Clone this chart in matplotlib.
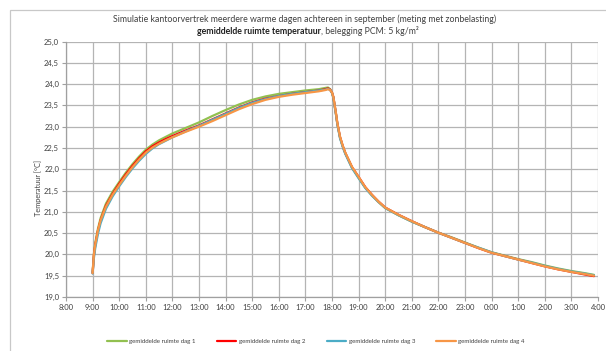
import matplotlib
matplotlib.use("Agg")
import matplotlib.pyplot as plt
from matplotlib.patches import Rectangle

plt.rcParams['font.family'] = ['Lato', 'DejaVu Sans']

# time in hours (8 = 8:00, 28 = 4:00 next day)
hours = [9.00, 9.05, 9.10, 9.20, 9.30, 9.50, 9.75, 10.00, 10.25, 10.50, 10.75, 11.00, 11.25, 11.50, 11.75,
         12.00, 12.50, 13.00, 13.50, 14.00, 14.50, 15.00, 15.50, 16.00, 16.50, 17.00, 17.50, 17.75,
         17.85, 17.93,
         18.00, 18.05, 18.10, 18.15, 18.20, 18.30, 18.40, 18.50, 18.75, 19.00, 19.25, 19.50, 19.75, 20.00,
         20.50, 21.00, 21.50, 22.00, 22.50, 23.00, 23.50, 24.00, 24.50, 25.00, 25.50, 26.00, 26.50, 27.00, 27.50, 27.85]

dag1 = [19.58, 20.02, 20.27, 20.60, 20.85, 21.19, 21.47, 21.70, 21.92, 22.12, 22.30, 22.46, 22.58, 22.68, 22.76,
        22.84, 22.97, 23.10, 23.25, 23.39, 23.52, 23.63, 23.71, 23.77, 23.81, 23.85, 23.88, 23.91,
        23.92, 23.88,
        23.80, 23.69, 23.49, 23.29, 23.07, 22.75, 22.55, 22.38, 22.04, 21.80, 21.57, 21.39, 21.23, 21.09,
        20.92, 20.77, 20.64, 20.51, 20.40, 20.28, 20.16, 20.05, 19.97, 19.89, 19.82, 19.74, 19.67, 19.61, 19.56, 19.52]

dag2 = [19.56, 19.98, 20.22, 20.55, 20.80, 21.14, 21.42, 21.66, 21.88, 22.08, 22.26, 22.42, 22.54, 22.63, 22.71,
        22.78, 22.91, 23.03, 23.17, 23.31, 23.45, 23.57, 23.66, 23.72, 23.77, 23.81, 23.85, 23.88,
        23.90, 23.87,
        23.80, 23.70, 23.50, 23.30, 23.08, 22.76, 22.55, 22.38, 22.05, 21.82, 21.58, 21.40, 21.24, 21.10,
        20.93, 20.78, 20.64, 20.51, 20.39, 20.27, 20.15, 20.04, 19.96, 19.88, 19.80, 19.72, 19.65, 19.59, 19.53, 19.49]

dag3 = [19.55, 19.92, 20.15, 20.48, 20.73, 21.07, 21.36, 21.60, 21.82, 22.02, 22.20, 22.36, 22.49, 22.59, 22.67,
        22.75, 22.89, 23.02, 23.16, 23.30, 23.44, 23.56, 23.65, 23.72, 23.77, 23.81, 23.85, 23.87,
        23.89, 23.86,
        23.79, 23.68, 23.48, 23.28, 23.06, 22.73, 22.53, 22.36, 22.03, 21.79, 21.56, 21.38, 21.23, 21.09,
        20.92, 20.77, 20.64, 20.51, 20.39, 20.27, 20.16, 20.05, 19.96, 19.88, 19.81, 19.73, 19.66, 19.60, 19.55, 19.51]

dag4 = [19.56, 20.00, 20.23, 20.56, 20.80, 21.12, 21.40, 21.63, 21.85, 22.05, 22.23, 22.39, 22.51, 22.60, 22.68,
        22.75, 22.88, 23.00, 23.13, 23.27, 23.41, 23.53, 23.63, 23.70, 23.75, 23.79, 23.83, 23.86,
        23.88, 23.86,
        23.80, 23.70, 23.51, 23.31, 23.09, 22.77, 22.56, 22.39, 22.06, 21.82, 21.58, 21.40, 21.24, 21.10,
        20.93, 20.78, 20.64, 20.51, 20.39, 20.27, 20.15, 20.04, 19.96, 19.88, 19.80, 19.72, 19.65, 19.59, 19.54, 19.50]

series = [dag1, dag2, dag3, dag4]
labels = ['gemiddelde ruimte dag 1', 'gemiddelde ruimte dag 2',
          'gemiddelde ruimte dag 3', 'gemiddelde ruimte dag 4']
colors = ['#92C050', '#FF0000', '#4BACC6', '#F79646']

x_ticks = list(range(8, 29))
x_labels = ['8:00', '9:00', '10:00', '11:00', '12:00', '13:00', '14:00', '15:00', '16:00', '17:00',
            '18:00', '19:00', '20:00', '21:00', '22:00', '23:00', '0:00', '1:00', '2:00', '3:00', '4:00']
y_ticks = [19.0, 19.5, 20.0, 20.5, 21.0, 21.5, 22.0, 22.5, 23.0, 23.5, 24.0, 24.5, 25.0]
y_labels = ['19,0', '19,5', '20,0', '20,5', '21,0', '21,5', '22,0', '22,5', '23,0', '23,5', '24,0', '24,5', '25,0']

W, H = 606, 351
fig = plt.figure(figsize=(W / 100, H / 100), dpi=100)
fig.patch.set_facecolor('white')

# chart border
fig.patches.append(Rectangle((10 / W, -0.05), 1.2, 1 - 10 / H + 0.05, transform=fig.transFigure,
                             fill=False, edgecolor='#C8C8C8', linewidth=0.9))

ax = fig.add_axes([66 / W, 1 - 297 / H, (598 - 66) / W, (297 - 41.5) / H])
for s, lab, c in zip(series, labels, colors):
    ax.plot(hours, s, color=c, lw=1.6, label=lab, solid_capstyle='round')

ax.set_xlim(8, 28)
ax.set_ylim(19, 25)
ax.set_xticks(x_ticks)
ax.set_xticklabels(x_labels)
ax.set_yticks(y_ticks)
ax.set_yticklabels(y_labels)
ax.grid(True, color='#B4B4B4', lw=0.9)
ax.set_axisbelow(True)
for sp in ['top', 'right']:
    ax.spines[sp].set_visible(False)
for sp in ['left', 'bottom']:
    ax.spines[sp].set_color('#A0A0A0')
    ax.spines[sp].set_linewidth(0.9)
ax.tick_params(axis='both', colors='#A0A0A0', labelcolor='#404040', labelsize=5.5, length=3, width=0.8, pad=2)

fig.text(38 / W, 1 - 188 / H, 'Temperatuur [°C]', rotation=90, ha='center', va='center',
         fontsize=5.3, color='#404040')

fig.text(305 / W, 1 - 19 / H,
         'Simulatie kantoorvertrek meerdere warme dagen achtereen in september (meting met zonbelasting)',
         ha='center', va='center', fontsize=6.3, color='#404040')

# second title line with bold part
fig.canvas.draw()
r = fig.canvas.get_renderer()
t1 = fig.text(0, 1 - 31 / H, 'gemiddelde ruimte temperatuur', ha='left', va='center',
              fontsize=6.3, fontweight='bold', color='#202020')
t2 = fig.text(0, 1 - 31 / H, ', belegging PCM: 5 kg/m²', ha='left', va='center',
              fontsize=6.3, color='#404040')
w1 = t1.get_window_extent(r).width
w2 = t2.get_window_extent(r).width
x0 = 308 - (w1 + w2) / 2
t1.set_x(x0 / W)
t2.set_x((x0 + w1) / W)

leg = fig.legend(loc='center', bbox_to_anchor=(316 / W, 1 - 341 / H), ncol=4, frameon=False,
                 fontsize=4.4, handlelength=3.2, columnspacing=3.5, handletextpad=0.4)
for t in leg.get_texts():
    t.set_color('#404040')

fig.savefig('out.png', dpi=100, facecolor='white')
